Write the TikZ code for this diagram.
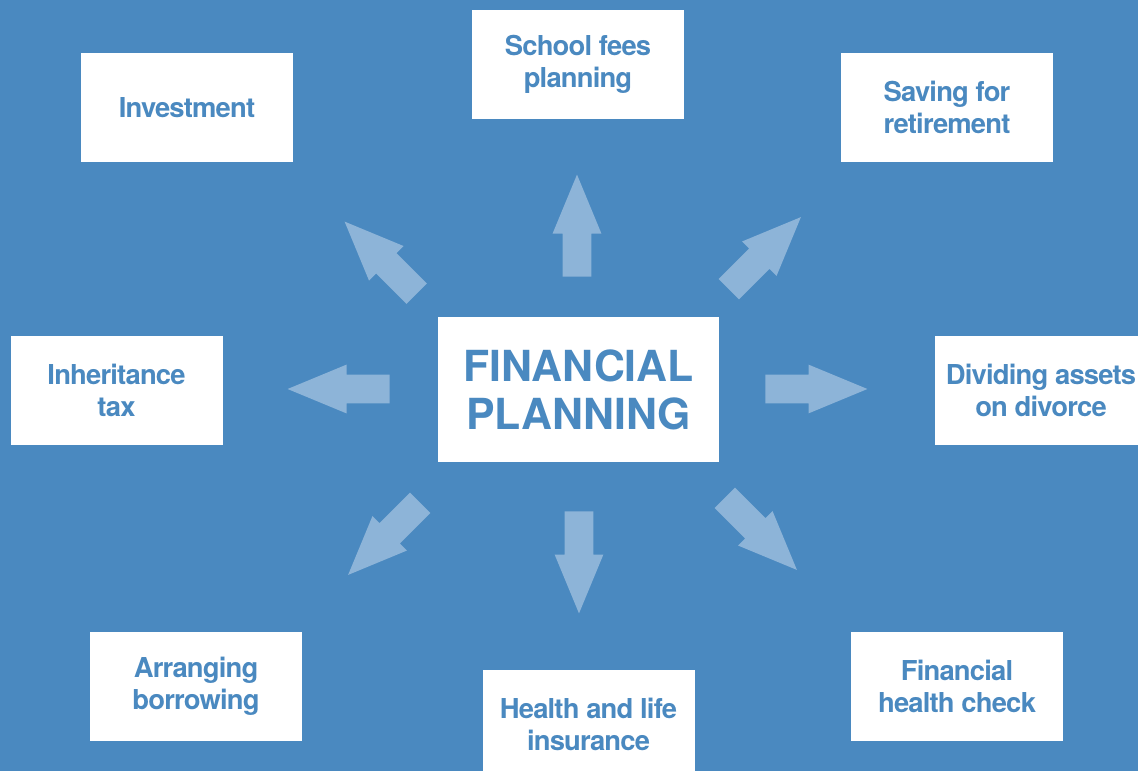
\documentclass[tikz,border=0pt]{standalone}
\usepackage{fontspec}
\setmainfont{TeX Gyre Heros}
\newfontfamily\boxfont[LetterSpace=-3]{TeX Gyre Heros}
\usepackage{tikz}
\usetikzlibrary{shapes.arrows}
\definecolor{fpblue}{RGB}{74,137,192}
\definecolor{arrowblue}{RGB}{141,180,216}

\begin{document}
\begin{tikzpicture}[x=0.5pt, y=-0.5pt,
		box/.style={fill=white, text=fpblue, font=\boxfont\bfseries\fontsize{13.7}{16}\selectfont, align=center, minimum width=106pt, minimum height=54.5pt, inner sep=0pt},
		bigarrow/.style={single arrow, fill=arrowblue, draw=none, minimum height=51pt, minimum width=0pt, inner sep=7pt, single arrow head extend=5pt, single arrow tip angle=45, single arrow head indent=0pt, anchor=tail}]
				\useasboundingbox (0,0) rectangle (1138,771);
				\clip (0,0) rectangle (1138,771);
				\fill[fpblue] (0,0) rectangle (1138,771);

				% centre
				\node[box, minimum width=140.5pt, minimum height=72.5pt, font=\bfseries\fontsize{21.4}{24}\selectfont] (FP) at (578.5,389.5) {FINANCIAL\\PLANNING};

				% the eight topics
				\node[box] (INV)     at (187,107.5)   {Investment};
				\node[box] (SCHOOL)  at (578,64.5)    {School fees\\planning};
				\node[box] (RETIRE)  at (947,107.5)   {Saving for\\retirement};
				\node[box] (TAX)     at (116.5,390)   {Inheritance\\tax};
				\node[box] (DIVORCE) at (1041,390)    {Dividing assets\\on divorce};
				\node[box] (BORROW)  at (196,686.5)   {Arranging\\borrowing};
				\node[box] (INSURE)  at (588.5,724.5) {Health and life\\insurance};
				\node[box] (CHECK)   at (957,686.5)   {Financial\\health check};

				% arrows out of the centre
				\node[bigarrow, rotate=90]   (UP)  at (577,277)     {};
				\node[bigarrow, rotate=45]   (NE)  at (728.5,289.5) {};
				\node[bigarrow, rotate=0]    (E)   at (765,389)     {};
				\node[bigarrow, rotate=-45]  (SE)  at (724.5,497.5) {};
				\node[bigarrow, rotate=-90]  (DN)  at (579,511)     {};
				\node[bigarrow, rotate=-135] (SW)  at (420.5,502.5) {};
				\node[bigarrow, rotate=180]  (W)   at (390,389)     {};
				\node[bigarrow, rotate=135]  (NW)  at (417,294)     {};
			\end{tikzpicture}
\end{document}
